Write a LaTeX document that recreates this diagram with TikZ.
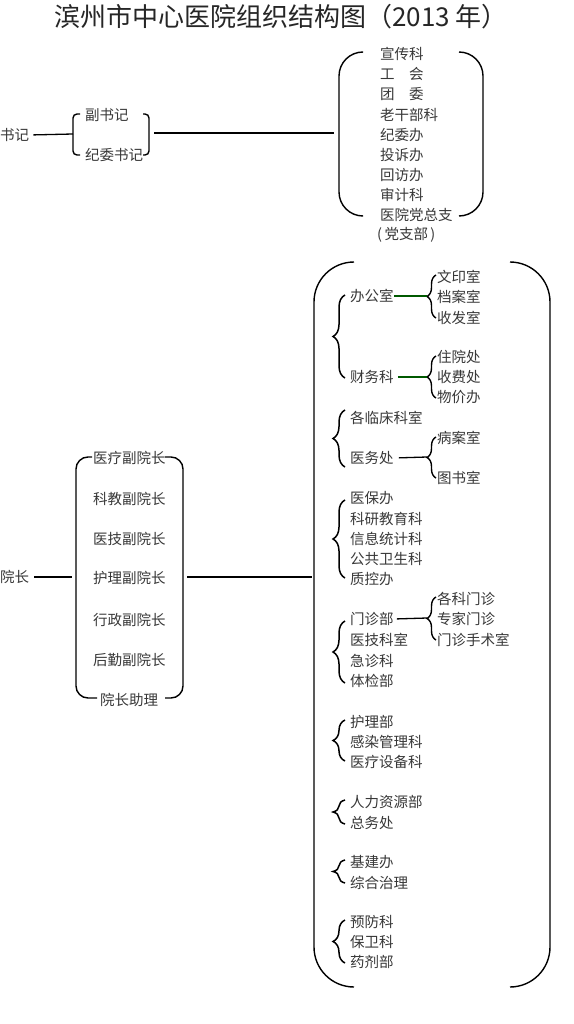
\documentclass[tikz,border=0pt]{standalone}
\usepackage{fontspec}
\newfontfamily\cjk{Noto Sans CJK SC}
\usetikzlibrary{decorations.pathreplacing}
\begin{document}
\begin{tikzpicture}[x=1pt,y=-1pt,
  txt/.style={inner sep=0pt,anchor=west,font=\cjk\fontsize{14.5}{15}\selectfont,text=black!78},
  ln/.style={line width=1.3pt,black},
  gln/.style={line width=1.3pt,green!35!black},
  paren/.style={line width=1.4pt,rounded corners=#1},
  brc/.style={decorate,decoration={brace,amplitude=12pt},line width=1.5pt},
  sbrc/.style={decorate,decoration={brace,amplitude=9pt},line width=1.4pt},
  ]
\useasboundingbox[fill=white] (0,0) rectangle (573,1024);
% title
\node[inner sep=0pt,font=\cjk\fontsize{26}{26}\selectfont,text=black!85] (title) at (281,17) {滨州市中心医院组织结构图（2013 年）};

% ---------- party branch ----------
\node[txt] (shuji) at (0,135) {书记};
\node[txt] (fsj) at (85,115) {副书记};
\node[txt] (jwsj) at (85,155) {纪委书记};
\draw[paren=4pt] (80,114) -- (73,114) -- (73,155) -- (80,155);
\draw[paren=4pt] (143,114) -- (149,114) -- (149,155) -- (143,155);
\coordinate (pgL) at (73,134);
\coordinate (pgR) at (154,133);
\draw[ln,shorten <=4pt] (shuji.east) -- (pgL);
\coordinate (ptopL) at (334,133);
\draw[ln] (pgR) -- (ptopL);
\draw[paren=24pt] (362,52) -- (339,52) -- (339,216) -- (362,216);
\draw[paren=24pt] (459,52) -- (483,52) -- (483,216) -- (459,216);
\node[txt] (p1) at (380,54) {宣传科};
\node[txt] (p2) at (380,74) {工　会};
\node[txt] (p3) at (380,94) {团　委};
\node[txt] (p4) at (380,115) {老干部科};
\node[txt] (p5) at (380,135) {纪委办};
\node[txt] (p6) at (380,155) {投诉办};
\node[txt] (p7) at (380,175) {回访办};
\node[txt] (p8) at (380,195) {审计科};
\node[txt] (p9) at (380,215) {医院党总支};
\node[txt] (p10) at (377,235) {(\,党支部\,)};

% ---------- administration ----------
\node[txt] (yz) at (0,577) {院长};
\draw[paren=12pt] (92,457) -- (76,457) -- (76,698) -- (97,698);
\draw[paren=12pt] (165,457) -- (183,457) -- (183,698) -- (165,698);
\node[txt] (v1) at (93,458) {医疗副院长};
\node[txt] (v2) at (93,499) {科教副院长};
\node[txt] (v3) at (93,539) {医技副院长};
\node[txt] (v4) at (93,578) {护理副院长};
\node[txt] (v5) at (93,620) {行政副院长};
\node[txt] (v6) at (93,660) {后勤副院长};
\node[txt] (v7) at (100,700) {院长助理};
\coordinate (vL) at (72,577);
\coordinate (vR) at (187,577);
\coordinate (bigL) at (312,577);
\draw[ln,shorten <=5pt] (yz.east) -- (vL);
\draw[ln] (vR) -- (bigL);
\draw[paren=40pt] (354,262) -- (314,262) -- (314,987) -- (354,987);
\draw[paren=40pt] (510,262) -- (550,262) -- (550,987) -- (510,987);

% group 1
\draw[brc] (345,378) -- (345,295);
\node[txt] (bgs) at (350,296) {办公室};
\node[txt] (cwk) at (350,377) {财务科};
\draw[sbrc] (436,318) -- (436,275);
\coordinate (s1) at (427,296);
\draw[gln] (bgs.east) -- (s1);
\node[txt] (a1) at (437,277) {文印室};
\node[txt] (a2) at (437,297) {档案室};
\node[txt] (a3) at (437,318) {收发室};
\draw[sbrc] (436,398) -- (436,356);
\coordinate (s2) at (427,377);
\draw[gln,shorten <=4pt] (cwk.east) -- (s2);
\node[txt] (b1) at (437,357) {住院处};
\node[txt] (b2) at (437,377) {收费处};
\node[txt] (b3) at (437,397) {物价办};

% group 2
\draw[brc] (345,467) -- (345,410);
\node[txt] (lc) at (350,418) {各临床科室};
\node[txt] (ywc) at (350,458) {医务处};
\draw[sbrc] (436,478) -- (436,437);
\coordinate (s3) at (427,457);
\draw[ln,shorten <=5pt] (ywc.east) -- (s3);
\node[txt] (c1) at (437,438) {病案室};
\node[txt] (c2) at (437,478) {图书室};

% group 3
\draw[brc] (345,578) -- (345,500);
\node[txt] (d1) at (350,498) {医保办};
\node[txt] (d2) at (350,519) {科研教育科};
\node[txt] (d3) at (350,539) {信息统计科};
\node[txt] (d4) at (350,559) {公共卫生科};
\node[txt] (d5) at (350,579) {质控办};

% group 4
\draw[brc] (345,683) -- (345,621);
\node[txt] (mzb) at (350,619) {门诊部};
\node[txt] (e2) at (350,640) {医技科室};
\node[txt] (e3) at (350,661) {急诊科};
\node[txt] (e4) at (350,681) {体检部};
\draw[sbrc] (436,640) -- (436,597);
\coordinate (s4) at (427,618);
\draw[ln,shorten <=3pt] (mzb.east) -- (s4);
\node[txt] (f1) at (437,599) {各科门诊};
\node[txt] (f2) at (437,619) {专家门诊};
\node[txt] (f3) at (437,640) {门诊手术室};

% group 5
\draw[brc] (345,761) -- (345,720);
\node[txt] (g1) at (350,722) {护理部};
\node[txt] (g2) at (350,742) {感染管理科};
\node[txt] (g3) at (350,762) {医疗设备科};

% group 6
\draw[brc] (345,824) -- (345,800);
\node[txt] (h1) at (350,802) {人力资源部};
\node[txt] (h2) at (350,823) {总务处};

% group 7
\draw[brc] (345,883) -- (345,860);
\node[txt] (i1) at (350,862) {基建办};
\node[txt] (i2) at (350,883) {综合治理};

% group 8
\draw[brc] (345,963) -- (345,920);
\node[txt] (j1) at (350,922) {预防科};
\node[txt] (j2) at (350,942) {保卫科};
\node[txt] (j3) at (350,962) {药剂部};
\end{tikzpicture}
\end{document}
